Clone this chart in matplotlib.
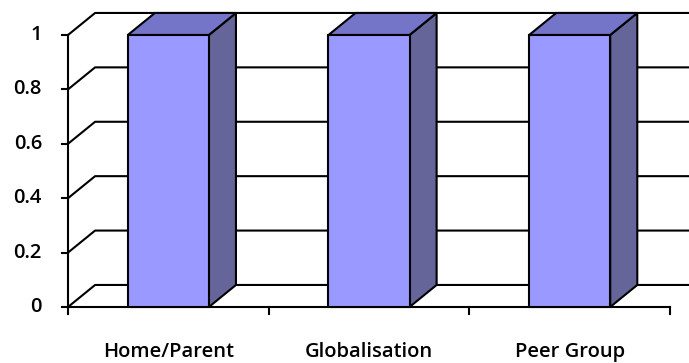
import matplotlib
matplotlib.use('Agg')
import matplotlib.pyplot as plt

# chart values
categories = ['Home/Parent', 'Globalisation', 'Peer Group']
values = [1, 1, 1]
yticks = [0, 0.2, 0.4, 0.6, 0.8, 1]
ytick_labels = ['0', '0.2', '0.4', '0.6', '0.8', '1']

# fake 3d look (excel style)
depth_x = 0.135   # in category units
depth_y = 0.081   # in value units
bar_w = 0.404
front_col = '#9999ff'
top_col = '#7474c8'
side_col = '#656599'
lw = 1.5

fig = plt.figure(figsize=(6.89, 3.63), dpi=100)
ax = fig.add_axes([68/689, 56/363, (670-68)/689, 272/363])
ax.set_xlim(-0.5, len(categories) - 0.5)
ax.set_ylim(0, 1)
ax.axis('off')

x0 = -0.5
x1 = len(categories) - 0.5

# back wall gridlines with the little diagonal on the left wall
for v in yticks:
    ax.plot([x0, x0 + depth_x, x1 + depth_x], [v, v + depth_y, v + depth_y],
            color='black', lw=lw, clip_on=False, zorder=1)

# axes lines
ax.plot([x0, x0], [0, 1], color='black', lw=lw, clip_on=False, zorder=2)
ax.plot([x0, x1], [0, 0], color='black', lw=lw, clip_on=False, zorder=2)

# tick marks
for v, lab in zip(yticks, ytick_labels):
    ax.plot([x0 - 0.03, x0], [v, v], color='black', lw=lw, clip_on=False)
    ax.text(x0 - 0.13, v, lab, ha='right', va='center', fontsize=14.5,
            family='Open Sans', fontweight='semibold')
for i in range(len(categories) + 1):
    ax.plot([x0 + i, x0 + i], [0, -0.025], color='black', lw=lw, clip_on=False)

for i, (c, v) in enumerate(zip(categories, values)):
    l = i - bar_w / 2
    r = i + bar_w / 2
    # side face
    ax.fill([r, r + depth_x, r + depth_x, r], [0, depth_y, v + depth_y, v],
            facecolor=side_col, edgecolor='black', lw=lw, zorder=3, clip_on=False)
    # top face
    ax.fill([l, r, r + depth_x, l + depth_x], [v, v, v + depth_y, v + depth_y],
            facecolor=top_col, edgecolor='black', lw=lw, zorder=3, clip_on=False)
    # front face
    ax.fill([l, r, r, l], [0, 0, v, v],
            facecolor=front_col, edgecolor='black', lw=lw, zorder=4, clip_on=False)
    ax.text(i, -0.165, c, ha='center', va='center', fontsize=14.5,
            family='Open Sans', fontweight='semibold')

fig.savefig('out.png', dpi=100)
